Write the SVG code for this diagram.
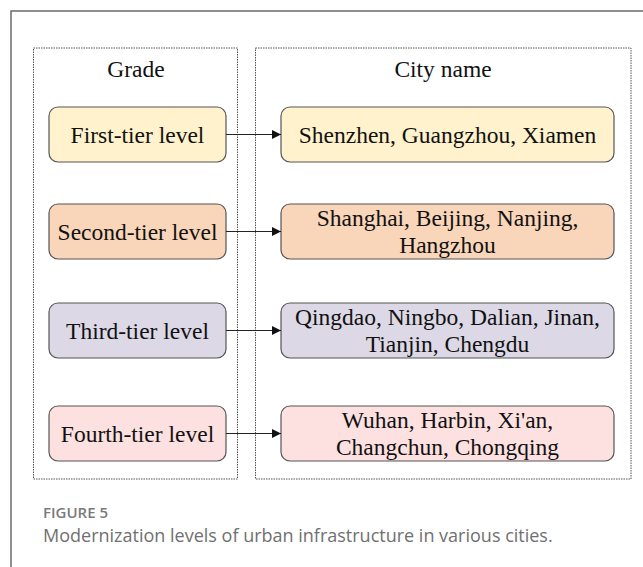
<svg xmlns="http://www.w3.org/2000/svg" width="643" height="567" viewBox="0 0 643 567">
  <style>
    .frame { fill: none; stroke: #6b6b6b; stroke-width: 1.5; }
    .panel { fill: none; stroke: #555; stroke-width: 1; stroke-dasharray: 1.5 1; }
    .node { stroke: #555; stroke-width: 1.2; }
    .t { font-family: "Liberation Serif", "Times New Roman", serif; font-size: 23.5px; fill: #111; text-anchor: middle; }
    .link { stroke: #222; stroke-width: 1.2; fill: none; marker-end: url(#arrow); }
    .cap1 { font-family: "Open Sans", "Liberation Sans", sans-serif; font-size: 15px; font-weight: 600; fill: #7a7a7a; }
    .cap2 { font-family: "Open Sans", "Liberation Sans", sans-serif; font-size: 18px; fill: #707070; }
    .c1 { fill: #fff2cc; }
    .c2 { fill: #f9d5b9; }
    .c3 { fill: #dcd8e6; }
    .c4 { fill: #fde1e1; }
  </style>
  <defs>
    <marker id="arrow" viewBox="0 0 10 10" refX="10" refY="5" markerWidth="9" markerHeight="9" markerUnits="userSpaceOnUse" orient="auto">
      <path d="M0,0 L10,5 L0,10 z" fill="#111"/>
    </marker>
  </defs>

  <rect width="643" height="567" fill="#fff"/>
  <!-- outer figure frame, open to the right and bottom -->
  <path class="frame" d="M11,567 L11,11 L643,11"/>

  <!-- column panels -->
  <g id="panel-grade">
    <rect class="panel" x="33.5" y="48" width="204" height="431"/>
    <text class="t" x="136" y="77">Grade</text>
  </g>
  <g id="panel-city">
    <rect class="panel" x="255.5" y="48" width="375.5" height="431"/>
    <text class="t" x="443" y="77">City name</text>
  </g>

  <!-- grade nodes -->
  <g id="first-tier">
    <rect class="node c1" x="49" y="107" width="177" height="55" rx="9"/>
    <text class="t" x="137.5" y="142.5">First-tier level</text>
  </g>
  <g id="second-tier">
    <rect class="node c2" x="49" y="204" width="177" height="55" rx="9"/>
    <text class="t" x="137.5" y="239.5">Second-tier level</text>
  </g>
  <g id="third-tier">
    <rect class="node c3" x="49" y="303" width="177" height="55" rx="9"/>
    <text class="t" x="137.5" y="338.5">Third-tier level</text>
  </g>
  <g id="fourth-tier">
    <rect class="node c4" x="49" y="406" width="177" height="55" rx="9"/>
    <text class="t" x="137.5" y="441.5">Fourth-tier level</text>
  </g>

  <!-- city nodes -->
  <g id="cities-first">
    <rect class="node c1" x="281" y="107" width="333" height="55" rx="9"/>
    <text class="t" x="447.5" y="142.5">Shenzhen, Guangzhou, Xiamen</text>
  </g>
  <g id="cities-second">
    <rect class="node c2" x="281" y="204" width="333" height="55" rx="9"/>
    <text class="t" x="447.5" y="226">Shanghai, Beijing, Nanjing,</text>
    <text class="t" x="447.5" y="253">Hangzhou</text>
  </g>
  <g id="cities-third">
    <rect class="node c3" x="281" y="303" width="333" height="55" rx="9"/>
    <text class="t" x="447.5" y="325">Qingdao, Ningbo, Dalian, Jinan,</text>
    <text class="t" x="447.5" y="352">Tianjin, Chengdu</text>
  </g>
  <g id="cities-fourth">
    <rect class="node c4" x="281" y="406" width="333" height="55" rx="9"/>
    <text class="t" x="447.5" y="428">Wuhan, Harbin, Xi'an,</text>
    <text class="t" x="447.5" y="455">Changchun, Chongqing</text>
  </g>

  <!-- connectors -->
  <g id="connectors">
    <line class="link" x1="226" y1="134.5" x2="281" y2="134.5"/>
    <line class="link" x1="226" y1="231.5" x2="281" y2="231.5"/>
    <line class="link" x1="226" y1="330.5" x2="281" y2="330.5"/>
    <line class="link" x1="226" y1="433.5" x2="281" y2="433.5"/>
  </g>

  <!-- caption -->
  <text class="cap1" x="43" y="518">FIGURE 5</text>
  <text class="cap2" x="43" y="542">Modernization levels of urban infrastructure in various cities.</text>
</svg>
